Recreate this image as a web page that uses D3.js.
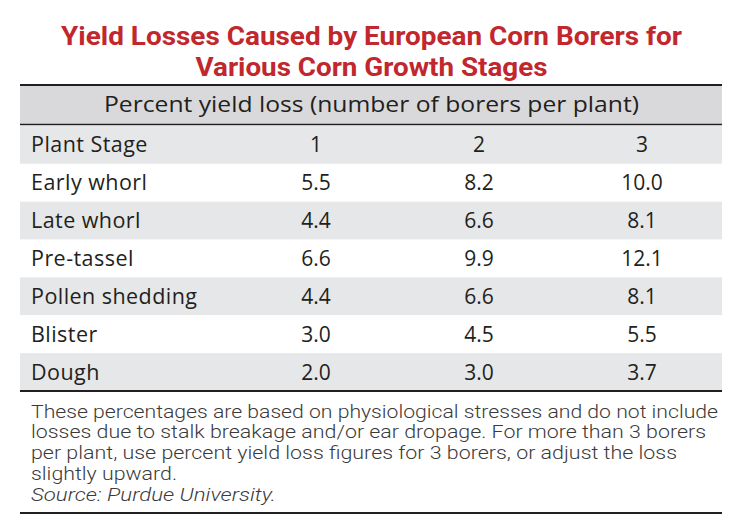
<!DOCTYPE html>
<html>
<head>
<meta charset="utf-8">
<script src="https://cdn.jsdelivr.net/npm/d3@7"></script>
<style>
  html, body { margin: 0; padding: 0; background: #ffffff; }
  svg { display: block; }
</style>
</head>
<body>
<svg id="chart" width="750" height="526"></svg>
<script>
// ---- data ----
const titleLines = ["Yield Losses Caused by European Corn Borers for", "Various Corn Growth Stages"];
const headerText = "Percent yield loss (number of borers per plant)";
const firstColLabel = "Plant Stage";
const borers = ["1", "2", "3"];
const stages = ["Early whorl", "Late whorl", "Pre-tassel", "Pollen shedding", "Blister", "Dough"];
const loss1 = [5.5, 4.4, 6.6, 4.4, 3.0, 2.0];
const loss2 = [8.2, 6.6, 9.9, 6.6, 4.5, 3.0];
const loss3 = [10.0, 8.1, 12.1, 8.1, 5.5, 3.7];
const noteLines = [
  "These percentages are based on physiological stresses and do not include",
  "losses due to stalk breakage and/or ear dropage. For more than 3 borers",
  "per plant, use percent yield loss figures for 3 borers, or adjust the loss",
  "slightly upward."
];
const sourceText = "Source: Purdue University.";

// ---- layout ----
const svg = d3.select("#chart");
const left = 20, right = 722;
const red = "#c1272d", ink = "#231f20";
const fmt = d3.format(".1f");
const series = [loss1, loss2, loss3];

// title
const titleWidths = [621, 352];
svg.selectAll("text.title").data(titleLines).join("text")
  .attr("class", "title")
  .attr("x", 371.5)
  .attr("y", (d, i) => 45 + i * 31)
  .attr("text-anchor", "middle")
  .attr("font-family", "Roboto, 'Open Sans', sans-serif")
  .attr("font-weight", "bold")
  .attr("font-size", 26)
  .attr("fill", red)
  .attr("textLength", (d, i) => titleWidths[i])
  .attr("lengthAdjust", "spacingAndGlyphs")
  .text(d => d);

// header band
const headTop = 85, headBottom = 124.5;
svg.append("rect").attr("x", left).attr("y", headTop).attr("width", right - left)
  .attr("height", headBottom - headTop).attr("fill", "#d9d9db");
svg.append("text").attr("x", 371.5).attr("y", (headTop + headBottom) / 2 + 7)
  .attr("text-anchor", "middle")
  .attr("font-family", "'Open Sans', sans-serif").attr("font-size", 21)
  .attr("fill", ink).attr("textLength", 535).attr("lengthAdjust", "spacingAndGlyphs")
  .text(headerText);

// rows
const rowKeys = [firstColLabel].concat(stages);
const y = d3.scaleBand().domain(rowKeys).range([126, 391]).paddingInner(0).paddingOuter(0);
const x = d3.scalePoint().domain(borers).range([316, 642]);

const rows = svg.selectAll("g.row").data(rowKeys).join("g")
  .attr("class", "row")
  .attr("transform", d => `translate(0,${y(d)})`);

rows.append("rect")
  .attr("x", left).attr("width", right - left).attr("height", y.bandwidth())
  .attr("fill", (d, i) => i % 2 === 0 ? "#e6e7e8" : "#ffffff");

const textY = y.bandwidth() / 2 + 7.5;
rows.append("text")
  .attr("x", 31).attr("y", textY)
  .attr("font-family", "'Open Sans', sans-serif").attr("font-size", 21.5)
  .attr("letter-spacing", 0.45)
  .attr("fill", ink)
  .text(d => d);

rows.each(function(d, i) {
  const g = d3.select(this);
  const vals = i === 0 ? borers : series.map(s => fmt(s[i - 1]));
  g.selectAll("text.val").data(vals).join("text")
    .attr("class", "val")
    .attr("x", (v, j) => x(borers[j]))
    .attr("y", textY)
    .attr("text-anchor", "middle")
    .attr("font-family", "'Open Sans', sans-serif").attr("font-size", 21)
    .attr("fill", ink)
    .text(v => v);
});

// rules
const rules = [headTop, headBottom, 391, 513];
const ruleW = [2.2, 1.6, 2.2, 2.2];
svg.selectAll("line.rule").data(rules).join("line")
  .attr("class", "rule")
  .attr("x1", left).attr("x2", right)
  .attr("y1", d => d).attr("y2", d => d)
  .attr("stroke", ink).attr("stroke-width", (d, i) => ruleW[i]);

// notes
const noteInk = "#3a3a3a";
const noteWidths = [687, 675, 646, 146];
svg.selectAll("text.note").data(noteLines).join("text")
  .attr("class", "note")
  .attr("x", 31).attr("y", (d, i) => 417.5 + i * 20.8)
  .attr("font-family", "Roboto, sans-serif").attr("font-size", 18.5)
  .attr("font-weight", 300)
  .attr("fill", noteInk)
  .attr("textLength", (d, i) => noteWidths[i])
  .attr("lengthAdjust", "spacingAndGlyphs")
  .text(d => d);
svg.append("text")
  .attr("x", 31).attr("y", 417.5 + 4 * 20.8)
  .attr("font-family", "Roboto, sans-serif").attr("font-size", 18.5)
  .attr("font-weight", 300)
  .attr("font-style", "italic")
  .attr("fill", noteInk)
  .attr("textLength", 245).attr("lengthAdjust", "spacingAndGlyphs")
  .text(sourceText);
</script>
</body>
</html>
